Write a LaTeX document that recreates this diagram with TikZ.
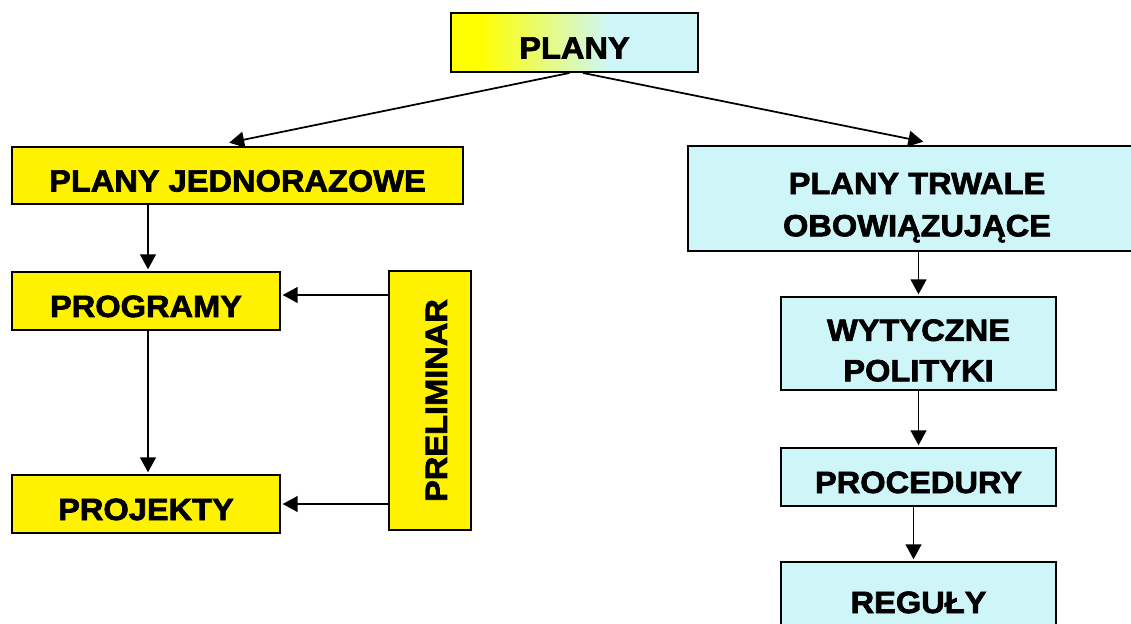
\documentclass[tikz,border=0pt]{standalone}
\usepackage{fontspec}
\newfontfamily\boxfont{Liberation Sans}[FakeStretch=1.06, BoldFeatures={FakeBold=2.2}]
\usepackage{tikz}
\usetikzlibrary{calc}
\usetikzlibrary{arrows.meta}
\definecolor{paleblue}{RGB}{206,246,248}
\pgfdeclarehorizontalshading{planyshade}{100bp}{color(0bp)=(yellow); color(31bp)=(yellow); color(48bp)=(yellow!35!paleblue); color(57bp)=(paleblue); color(100bp)=(paleblue)}

\begin{document}
\begin{tikzpicture}[x=0.02cm, y=-0.02cm,
    box/.style={draw, line width=1.1pt, align=center, inner sep=0pt,
        text height=18.2pt, text depth=0pt,
        font=\boxfont\bfseries\fontsize{17.5}{23}\selectfont},
    twolines/.style={text height=43pt},
    yellowbox/.style={box, fill=yellow},
    bluebox/.style={box, fill=paleblue},
    arr/.style={-{Triangle[length=8.5pt, width=9pt]}, line width=1pt, shorten >=1pt}]
    \useasboundingbox (0, 0) rectangle (1131, 623);
    \node[box, shading=planyshade, minimum width=4.94cm, minimum height=1.18cm] (plany) at (574.5, 42.5) {PLANY};
    \node[yellowbox, minimum width=9.02cm, minimum height=1.14cm] (jedn) at (237.5, 175.5) {PLANY JEDNORAZOWE};
    \node[bluebox, twolines, minimum width=9.16cm, minimum height=2.1cm] (trwale) at (917, 198.5) {PLANY TRWALE\\[1pt]OBOWIĄZUJĄCE};
    \node[yellowbox, minimum width=5.36cm, minimum height=1.16cm] (programy) at (146, 301) {PROGRAMY};
    \node[yellowbox, minimum width=5.36cm, minimum height=1.16cm] (projekty) at (146, 504) {PROJEKTY};
    \node[yellowbox, text height=, text depth=, minimum width=1.64cm, minimum height=5.18cm] (prelim) at (430, 400.5) {\rotatebox{90}{\raisebox{-3.4pt}[12.5pt][0pt]{PRELIMINAR}}};
    \node[bluebox, twolines, minimum width=5.5cm, minimum height=1.86cm] (wytyczne) at (918.5, 343.5) {WYTYCZNE\\POLITYKI};
    \node[bluebox, minimum width=5.5cm, minimum height=1.16cm] (procedury) at (918.5, 477) {PROCEDURY};
    \node[bluebox, minimum width=5.5cm, minimum height=1.4cm] (reguly) at (918.5, 597) {REGUŁY};
    \coordinate (progin) at ($(programy.east)+(0, -6)$);
    \draw[arr] ($(plany.south)+(-5, 0)$) -- ($(jedn.north)+(-10, -3)$);
    \draw[arr] ($(plany.south)+(8.5, 0)$) -- ($(trwale.north)+(8, -3)$);
    \draw[arr] ($(programy.north |- jedn.south)+(2, 0)$) -- ($(programy.north)+(2, 0)$);
    \draw[arr] ($(programy.south)+(2, 0)$) -- ($(projekty.north)+(2, 0)$);
    \draw[arr] (prelim.west |- progin) -- (progin);
    \draw[arr] (prelim.west |- projekty) -- (projekty.east);
    \draw[arr] (wytyczne.north |- trwale.south) -- (wytyczne.north);
    \draw[arr] (wytyczne.south) -- (procedury.north);
    \draw[arr] ($(procedury.south)+(-5, 0)$) -- ($(reguly.north)+(-5, 0)$);
\end{tikzpicture}
\end{document}
